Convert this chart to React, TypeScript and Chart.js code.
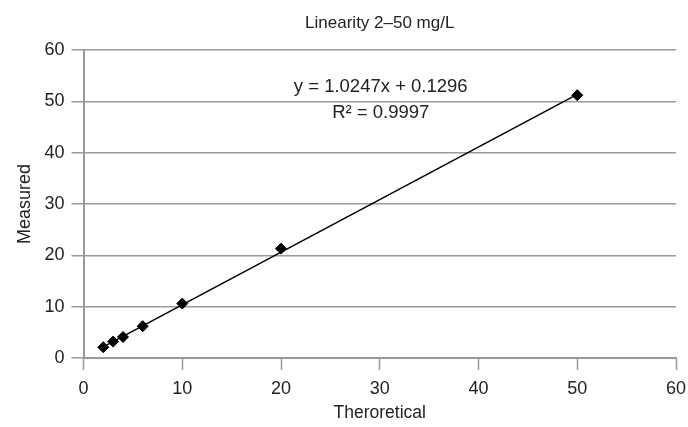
import { useEffect, useRef } from "react";
import { Chart, registerables } from "chart.js";

Chart.register(...registerables);

// ---- data ----
const theoretical = [2, 3, 4, 6, 10, 20, 50];
const measured = [2.1, 3.2, 4.1, 6.2, 10.6, 21.3, 51.2];
const trendX = [2, 50];
const trendY = [2.18, 51.36];
const xTickValues = [0, 10, 20, 30, 40, 50, 60];
const yTickValues = [0, 10, 20, 30, 40, 50, 60];
const chartTitle = "Linearity 2–50 mg/L";
const xAxisTitle = "Theroretical";
const yAxisTitle = "Measured";
const equationLines = ["y = 1.0247x + 0.1296", "R² = 0.9997"];

const FONT = '"Liberation Sans", Arial, sans-serif';
const GRID = "#9a9a9a";
const TEXT = "#222222";

const equationPlugin = {
  id: "equationLabel",
  afterDatasetsDraw(chart: any) {
    const { ctx, scales } = chart;
    const x = scales.x;
    const y = scales.y;
    ctx.save();
    ctx.font = `18.5px ${FONT}`;
    ctx.fillStyle = TEXT;
    ctx.textAlign = "center";
    ctx.textBaseline = "middle";
    ctx.fillText(equationLines[0], x.getPixelForValue(30.1), y.getPixelForValue(52.8));
    ctx.fillText(equationLines[1], x.getPixelForValue(30.1), y.getPixelForValue(47.8));
    ctx.restore();
  },
};

export default function App() {
  const ref = useRef<HTMLCanvasElement>(null);

  useEffect(() => {
    document.body.style.margin = "0";
    const pts = theoretical.map((v, i) => ({ x: v, y: measured[i] }));
    const trend = trendX.map((v, i) => ({ x: v, y: trendY[i] }));
    const chart = new Chart(ref.current!, {
      type: "scatter",
      data: {
        datasets: [
          {
            label: "Measured",
            data: pts,
            pointStyle: "rectRot",
            pointRadius: 5.5,
            pointHoverRadius: 5.5,
            backgroundColor: "#000",
            borderColor: "#000",
            borderWidth: 1,
            showLine: false,
            order: 0,
          },
          {
            label: "Trend",
            data: trend,
            showLine: true,
            pointRadius: 0,
            borderColor: "#000",
            borderWidth: 1.5,
            fill: false,
            order: 1,
          },
        ],
      },
      options: {
        animation: false,
        responsive: true,
        maintainAspectRatio: false,
        layout: { padding: { left: 0, right: 12, top: 0, bottom: 0 } },
        plugins: {
          legend: { display: false },
          tooltip: { enabled: false },
          title: {
            display: true,
            text: chartTitle,
            fullSize: false,
            color: TEXT,
            font: { family: FONT, size: 17, weight: "normal" },
            padding: { top: 13, bottom: 16.6 },
          },
        },
        scales: {
          x: {
            type: "linear",
            min: 0,
            max: 60,
            afterBuildTicks: (s: any) => {
              s.ticks = xTickValues.map((v) => ({ value: v }));
            },
            afterFit: (s: any) => {
              s.height = 69;
              s.paddingRight = 0;
              s.paddingLeft = 0;
            },
            ticks: {
              color: TEXT,
              font: { family: FONT, size: 18 },
              padding: 8,
              autoSkip: false,
              maxRotation: 0,
            },
            grid: {
              drawOnChartArea: false,
              drawTicks: true,
              tickLength: 12,
              tickColor: GRID,
              tickWidth: 1.5,
            },
            border: { display: true, color: GRID, width: 2 },
            title: {
              display: true,
              text: xAxisTitle,
              color: TEXT,
              font: { family: FONT, size: 17.5 },
              padding: { top: 0, bottom: 3 },
            },
          },
          y: {
            type: "linear",
            min: 0,
            max: 60,
            afterBuildTicks: (s: any) => {
              s.ticks = yTickValues.map((v) => ({ value: v }));
            },
            afterFit: (s: any) => {
              s.width = 83.5;
            },
            ticks: {
              color: TEXT,
              font: { family: FONT, size: 18 },
              padding: 7,
              autoSkip: false,
            },
            grid: {
              color: GRID,
              lineWidth: 1.5,
              drawTicks: true,
              tickLength: 12,
              tickColor: GRID,
              tickWidth: 1.5,
            },
            border: { display: true, color: GRID, width: 2 },
            title: {
              display: true,
              text: yAxisTitle,
              color: TEXT,
              font: { family: FONT, size: 18 },
              padding: { top: 14, bottom: 0 },
            },
          },
        },
      },
      plugins: [equationPlugin],
    });
    return () => chart.destroy();
  }, []);

  return (
    <div style={{ width: 688, height: 427, position: "relative" }}>
      <canvas ref={ref} />
    </div>
  );
}
